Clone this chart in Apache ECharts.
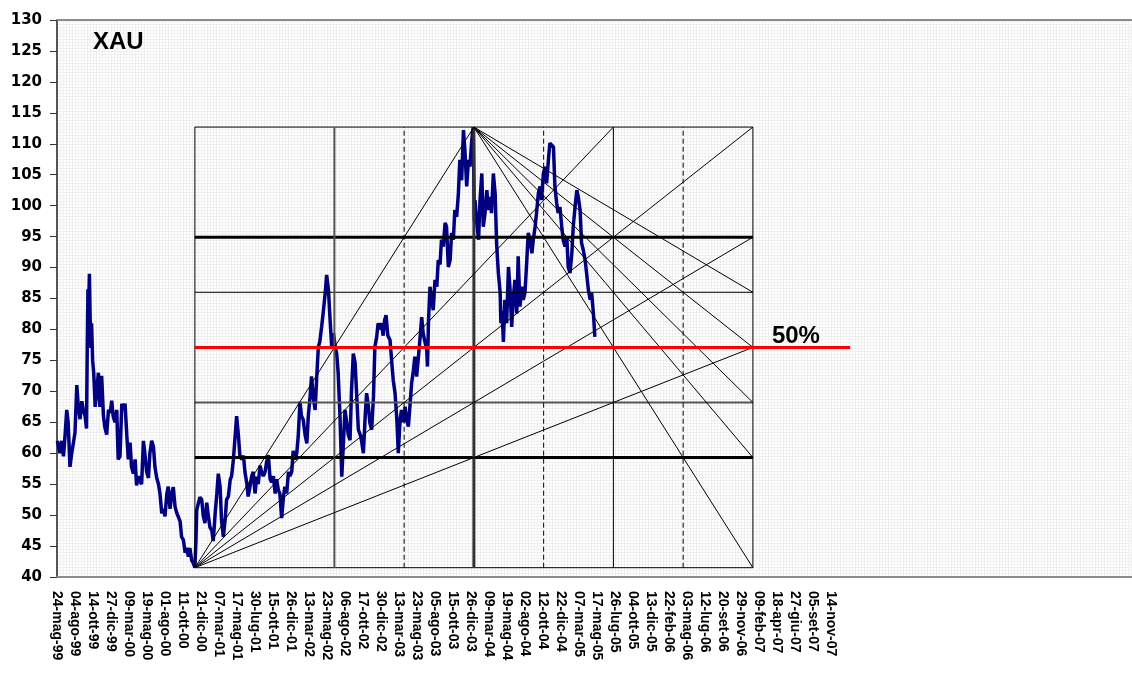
<!DOCTYPE html>
<html>
<head>
<meta charset="utf-8">
<title>XAU</title>
<script src="https://cdn.jsdelivr.net/npm/echarts@6.0.0/dist/echarts.min.js"></script>
<style>
  html, body { margin: 0; padding: 0; background: #fff; }
  #chart { width: 1132px; height: 673px; }
</style>
</head>
<body>
<div id="chart"></div>
<script>
// tick labels, one every 50 trading days
var tickLabels = ['24-mag-99', '04-ago-99', '14-ott-99', '27-dic-99', '09-mar-00', '19-mag-00', '01-ago-00',
    '11-ott-00', '21-dic-00', '07-mar-01', '17-mag-01', '30-lug-01', '15-ott-01', '26-dic-01', '13-mar-02',
    '23-mag-02', '06-ago-02', '17-ott-02', '30-dic-02', '13-mar-03', '23-mag-03', '05-ago-03', '15-ott-03',
    '26-dic-03', '09-mar-04', '19-mag-04', '02-ago-04', '12-ott-04', '22-dic-04', '07-mar-05', '17-mag-05',
    '26-lug-05', '04-ott-05', '13-dic-05', '22-feb-06', '03-mag-06', '12-lug-06', '20-set-06', '29-nov-06',
    '09-feb-07', '18-apr-07', '27-giu-07', '05-set-07', '14-nov-07'];
var daysPerLabel = 50;
var lastDay = 2986;

// XAU close, [trading day, price]
var xauPart1999_2000 = [[1, 62], [8, 60], [13, 62], [18, 59.5], [22, 62.5], [27, 67], [31, 65], [36, 57.8],
    [41, 60], [45, 61.5], [50, 63.3], [55, 71], [59, 67.7], [64, 65.5], [69, 68.4], [73, 67], [78, 66], [82, 64],
    [84, 77], [86, 86.5], [88, 84], [90, 89], [92, 82], [94, 77], [96, 81], [99, 75], [102, 73], [106, 67.5],
    [110, 70], [115, 73], [119, 67.5], [124, 72.5], [129, 66], [133, 64.2], [138, 63], [143, 67], [148, 66.5],
    [152, 68.5], [156, 66], [161, 65], [166, 67], [170, 59], [175, 59.5], [180, 68], [185, 67], [189, 68],
    [194, 62.8], [198, 59], [203, 61.7], [207, 57.8], [212, 56.7], [217, 59], [221, 54.8], [226, 56.3],
    [230, 55.5], [235, 55], [240, 62], [244, 60], [249, 57], [254, 56], [258, 60], [263, 62], [268, 61],
    [272, 57.8], [277, 56], [282, 55], [286, 53.5], [291, 50.3], [296, 51], [300, 49.8], [305, 53.4],
    [309, 54.6], [314, 51], [319, 53.5], [323, 54.5], [328, 51.3], [333, 50.3], [338, 50.5], [342, 49],
    [346, 46.5], [351, 46], [356, 43.9], [360, 44.7], [365, 43.3], [369, 44.7], [374, 42.7], [379, 42.2],
    [383, 41.5]];
var xauPart2001_2003 = [[386, 46], [388, 50.8], [392, 50.5], [397, 52.9], [402, 52.5], [406, 50], [411, 48.7],
    [416, 52], [420, 50], [425, 48], [430, 47.5], [434, 45.8], [439, 50], [444, 53.5], [448, 56.7], [453, 54.6],
    [457, 49.2], [462, 46.5], [467, 49.2], [471, 52.5], [476, 53], [481, 55.7], [485, 56.3], [490, 59],
    [494, 62.1], [499, 66], [504, 62.8], [508, 59.6], [513, 59], [518, 59.6], [522, 57], [527, 55.2], [531, 53],
    [536, 54.6], [541, 56.3], [545, 57], [550, 53.5], [555, 56.2], [559, 55], [564, 58], [568, 57], [573, 56.3],
    [578, 57], [582, 58.5], [587, 59.7], [592, 55.8], [596, 55.3], [601, 56.3], [606, 53.5], [610, 55.8],
    [615, 54], [619, 53.5], [624, 49.5], [629, 53], [633, 54.6], [638, 53.5], [643, 57], [647, 56.3], [652, 57],
    [656, 60.4], [661, 59], [666, 60], [670, 62.7], [675, 68.3], [679, 66], [684, 65.4], [689, 63], [694, 61.6],
    [698, 66], [703, 69.1], [707, 72.4], [712, 69], [717, 67], [721, 71.8], [726, 77.2], [730, 78], [735, 80.4],
    [740, 83], [745, 85.9], [749, 88.8], [754, 86.4], [758, 82.1], [763, 77.2], [768, 79.4], [772, 77.5],
    [777, 76], [781, 73], [786, 66], [791, 56.2], [795, 61], [800, 67], [805, 64.9], [809, 63], [814, 62.1],
    [818, 70], [823, 76.1], [828, 74.6], [832, 70], [837, 63.8], [842, 63], [846, 62], [851, 60], [856, 65.9],
    [860, 69.7], [865, 67.5], [869, 64.9], [874, 63.8], [879, 69.1], [883, 77.2], [888, 78.8], [892, 81],
    [897, 80], [901, 81], [906, 79], [910, 81.5], [914, 82.3], [919, 79], [925, 78.3], [930, 74.6], [934, 71.8],
    [939, 69.7], [944, 65.4], [948, 60], [953, 65.4], [957, 67], [962, 65], [967, 67.5], [971, 65.4],
    [976, 64.3], [981, 68.1], [985, 71.3], [990, 73.4], [994, 75.6], [999, 72.4], [1004, 75.6], [1008, 78.3],
    [1013, 82], [1017, 79.4], [1022, 78], [1027, 76.7], [1029, 74], [1032, 81.5], [1036, 86.9], [1041, 84.8],
    [1045, 83.1], [1050, 88], [1055, 86.9], [1059, 91.2], [1064, 90.5], [1068, 94.5], [1073, 93.4],
    [1078, 97.2], [1082, 96.6], [1087, 90.1], [1092, 91.2], [1096, 95.6], [1101, 94.5], [1105, 99.3],
    [1110, 98.2], [1115, 102], [1119, 107.4], [1124, 104.1], [1129, 112.2], [1133, 109], [1138, 103.1],
    [1143, 107.4], [1147, 106.3], [1152, 110.5], [1156, 112.7]];
var xauPart2004_2005 = [[1158, 104], [1159, 97.5], [1161, 100.9], [1166, 97.2], [1171, 94.5], [1175, 100.9],
    [1180, 105.2], [1184, 96.6], [1189, 98.8], [1194, 102.5], [1198, 99.3], [1203, 101.4], [1207, 98.8],
    [1212, 105.2], [1217, 102], [1221, 94], [1226, 89.1], [1231, 85.9], [1233, 81], [1236, 83], [1240, 78],
    [1244, 84.8], [1249, 81], [1254, 90.1], [1258, 86.9], [1263, 80.4], [1267, 84.8], [1272, 88], [1277, 82.6],
    [1281, 91.8], [1286, 83.7], [1291, 86.9], [1295, 84.8], [1300, 86], [1305, 91.2], [1309, 95.6],
    [1314, 94.5], [1319, 92.3], [1323, 94.5], [1328, 96.6], [1332, 98.8], [1337, 102], [1342, 103.1],
    [1346, 100.9], [1351, 105.2], [1356, 106.3], [1360, 103.6], [1365, 107.4], [1369, 110.1], [1374, 110.3],
    [1379, 109.5], [1383, 103.1], [1388, 100.4], [1392, 98.8], [1397, 99.8], [1402, 96.6], [1406, 94.5],
    [1411, 93.4], [1416, 95], [1420, 90.1], [1425, 89.1], [1430, 92.3], [1434, 96.6], [1439, 99.8],
    [1444, 102.5], [1448, 101.4], [1453, 99.3], [1457, 94], [1462, 92.8], [1467, 91.2], [1471, 89.1],
    [1476, 86.4], [1481, 84.8], [1485, 85.9], [1490, 82.6], [1494, 78.8]];

// Gann box: from the 2000 low to the 2003 high, twice as long as the rise
var gannLow = [383, 41.5];
var gannHigh = [1158, 112.7];
var redLineEndDay = 2203;

var boxX0 = gannLow[0];
var boxX1 = gannLow[0] + 2 * (gannHigh[0] - gannLow[0]);
var boxY0 = gannLow[1];
var boxY1 = gannHigh[1];

function boxPoint(fx, fy) {
    return [boxX0 + fx * (boxX1 - boxX0), boxY0 + fy * (boxY1 - boxY0)];
}

function segment(a, b, style) {
    return {
        type: 'line',
        data: [a, b],
        symbol: 'none',
        silent: true,
        z: 3,
        lineStyle: style
    };
}

var thin = { color: '#000', width: 1 };
var bold = { color: '#000', width: 3 };
var dashed = { color: '#000', width: 1, type: [5, 3] };

var series = [{
    name: 'XAU',
    type: 'line',
    data: xauPart1999_2000.concat(xauPart2001_2003, xauPart2004_2005),
    symbol: 'none',
    z: 2,
    lineStyle: { color: '#000080', width: 3.5 }
}];

// horizontal levels of the box
series.push(segment(boxPoint(0, 0), boxPoint(1, 0), thin));
series.push(segment(boxPoint(0, 0.25), boxPoint(1, 0.25), bold));
series.push(segment(boxPoint(0, 0.375), boxPoint(1, 0.375), { color: '#555', width: 2 }));
series.push(segment(boxPoint(0, 0.625), boxPoint(1, 0.625), thin));
series.push(segment(boxPoint(0, 0.75), boxPoint(1, 0.75), bold));
series.push(segment(boxPoint(0, 1), boxPoint(1, 1), thin));

// vertical divisions
series.push(segment(boxPoint(0, 0), boxPoint(0, 1), thin));
series.push(segment(boxPoint(0.25, 0), boxPoint(0.25, 1), { color: '#555', width: 2 }));
series.push(segment(boxPoint(0.375, 0), boxPoint(0.375, 1), dashed));
series.push(segment(boxPoint(0.5, 0), boxPoint(0.5, 1), { color: '#333', width: 3 }));
series.push(segment(boxPoint(0.625, 0), boxPoint(0.625, 1), dashed));
series.push(segment(boxPoint(0.75, 0), boxPoint(0.75, 1), thin));
series.push(segment(boxPoint(0.875, 0), boxPoint(0.875, 1), dashed));
series.push(segment(boxPoint(1, 0), boxPoint(1, 1), thin));

// fan from the low
[[0.5, 1], [0.75, 1], [1, 1], [1, 0.75], [1, 0.5]].forEach(function (p) {
    series.push(segment(boxPoint(0, 0), boxPoint(p[0], p[1]), thin));
});
// fan from the high
[[1, 0.625], [1, 0.5], [1, 0.375], [1, 0.25], [1, 0]].forEach(function (p) {
    series.push(segment(boxPoint(0.5, 1), boxPoint(p[0], p[1]), thin));
});

// 50% retracement
var midPrice = boxPoint(0, 0.5)[1];
series.push(segment([boxX0, midPrice], [redLineEndDay, midPrice], { color: '#ff0000', width: 3 }));

// plot area fill: light grid pattern
var tile = document.createElement('canvas');
tile.width = 3;
tile.height = 3;
var tctx = tile.getContext('2d');
tctx.fillStyle = '#ffffff';
tctx.fillRect(0, 0, 3, 3);
tctx.fillStyle = '#f0f0f0';
tctx.fillRect(0, 0, 3, 1);
tctx.fillRect(0, 0, 1, 3);

var chart = echarts.init(document.getElementById('chart'), null, { renderer: 'canvas' });

var option = {
    animation: false,
    backgroundColor: '#fff',
    title: {
        text: 'XAU',
        left: 88,
        top: 25,
        textStyle: { fontFamily: 'Liberation Sans', fontWeight: 'bold', fontSize: 24, color: '#000' }
    },
    grid: {
        left: 57,
        right: 0,
        top: 20,
        bottom: 96,
        show: true,
        backgroundColor: { image: tile, repeat: 'repeat' },
        borderWidth: 0
    },
    xAxis: [{
        type: 'value',
        min: 0,
        max: lastDay,
        interval: daysPerLabel,
        splitLine: { show: false },
        axisLine: { show: true, lineStyle: { color: '#8c8c8c', width: 2 } },
        axisTick: { show: false },
        axisLabel: {
            rotate: -90,
            margin: 14,
            color: '#000',
            fontFamily: 'Liberation Sans',
            fontWeight: 'bold',
            fontSize: 14,
            showMinLabel: true,
            showMaxLabel: true,
            formatter: function (v) {
                return tickLabels[Math.round(v / daysPerLabel)] || '';
            }
        }
    }, {
        // top border of the plot area only
        type: 'value',
        position: 'top',
        min: 0,
        max: lastDay,
        splitLine: { show: false },
        axisLine: { show: true, lineStyle: { color: '#8c8c8c', width: 2 } },
        axisTick: { show: false },
        axisLabel: { show: false }
    }],
    yAxis: {
        type: 'value',
        min: 40,
        max: 130,
        interval: 5,
        splitLine: { show: false },
        axisLine: { show: true, lineStyle: { color: '#555', width: 2 } },
        axisTick: { show: true, length: 7, lineStyle: { color: '#333', width: 1 } },
        axisLabel: {
            margin: 15,
            color: '#000',
            fontFamily: 'DejaVu Sans',
            fontWeight: 'bold',
            fontSize: 15
        }
    },
    series: series
};

chart.setOption(option);

// "50%" label next to the end of the box on the retracement line
var anchor = chart.convertToPixel({ gridIndex: 0 }, [boxX1, midPrice]);
chart.setOption({
    graphic: [{
        type: 'text',
        x: anchor[0] + 19,
        y: anchor[1] + 1,
        silent: true,
        style: {
            text: '50%',
            fill: '#000',
            font: 'bold 24px "Liberation Sans"',
            verticalAlign: 'bottom'
        }
    }]
});
</script>
</body>
</html>
